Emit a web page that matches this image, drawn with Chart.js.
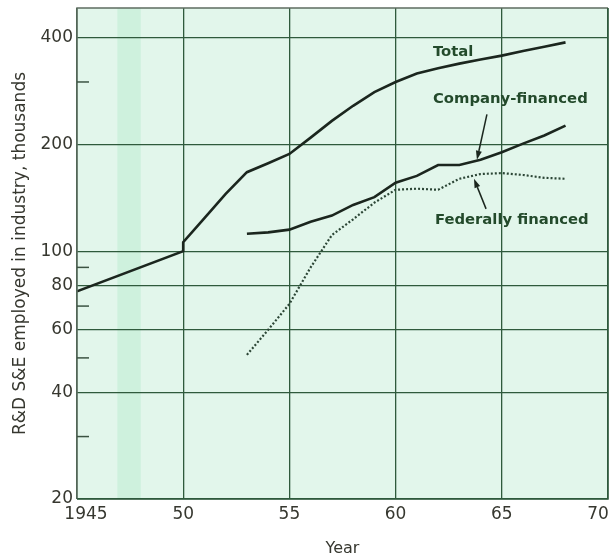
<!DOCTYPE html>
<html>
<head>
<meta charset="utf-8">
<script src="https://cdn.jsdelivr.net/npm/chart.js@4.4.1/dist/chart.umd.min.js"></script>
<style>
  html, body { margin: 0; padding: 0; background: #ffffff; }
  #wrap { width: 610px; height: 558px; }
</style>
</head>
<body>
<div id="wrap"><canvas id="c" width="610" height="558"></canvas></div>
<script>
// ---- Data ----
const totalYears   = [1945, 1950, 1950, 1951, 1952, 1953, 1954, 1955, 1956, 1957, 1958, 1959, 1960, 1961, 1962, 1963, 1964, 1965, 1966, 1967, 1968];
const totalValues  = [77,   100,  106,  124,  145,  167,  177,  188,  209,  233,  257,  281,  300,  317,  328,  338,  347,  356,  367,  377,  388];
const splitYears     = [1953, 1954, 1955, 1956, 1957, 1958, 1959, 1960, 1961, 1962, 1963, 1964, 1965, 1966, 1967, 1968];
const companyValues  = [112,  113,  115,  121,  126,  135,  142,  156,  163,  175,  175,  181,  190,  201,  212,  226];
const federalValues  = [51,   60,   71,   90,   111,  123,  137,  149,  150,  149,  160,  165,  166,  164,  161,  160];
const xTickValues = [1945, 1950, 1955, 1960, 1965, 1970];
const xTickLabels = ['1945', '50', '55', '60', '65', '70'];
const yTickValues = [20, 40, 60, 80, 100, 200, 400];
const yMinorTicks = [30, 50, 70, 90, 300];
const seriesLabels = ['Total', 'Company-financed', 'Federally financed'];
const yTitle = 'R&D S&E employed in industry, thousands';
const xTitle = 'Year';

// annotation anchors in data coordinates
const labelAnchors = [
  { text: 'Total',              x: 1961.76, y: 363 },
  { text: 'Company-financed',   x: 1961.76, y: 268 },
  { text: 'Federally financed', x: 1961.85, y: 122.5 }
];
const arrows = [
  { from: [1964.3, 243],   to: [1963.83, 181] },
  { from: [1964.26, 131.6], to: [1963.69, 160] }
];

const toPts = (xs, ys) => xs.map((x, i) => ({ x: x, y: ys[i] }));

const INK = '#1b261e';
const TEXT = '#36372f';
const GREEN_TEXT = '#234a2b';
const GRID = '#2f5a3c';

const decor = {
  id: 'decor',
  beforeDraw(chart) {
    const { ctx, chartArea: a, scales } = chart;
    ctx.save();
    ctx.fillStyle = '#ffffff';
    ctx.fillRect(0, 0, chart.width, chart.height);
    ctx.fillStyle = '#e2f6eb';
    ctx.fillRect(a.left, a.top, a.right - a.left, a.bottom - a.top);
    // slightly stronger green band of the paper
    const bx0 = scales.x.getPixelForValue(1946.9);
    const bx1 = scales.x.getPixelForValue(1948.0);
    ctx.fillStyle = 'rgba(170,232,196,0.35)';
    ctx.fillRect(bx0, a.top, bx1 - bx0, a.bottom - a.top);
    ctx.restore();
  },
  afterDatasetsDraw(chart) {
    const { ctx, chartArea: a, scales } = chart;
    const xs = scales.x, ys = scales.y;
    ctx.save();
    // frame
    ctx.strokeStyle = '#5d6c60';
    ctx.lineWidth = 1.5;
    ctx.beginPath();
    ctx.moveTo(a.left, a.bottom);
    ctx.lineTo(a.left, a.top);
    ctx.lineTo(a.right, a.top);
    ctx.stroke();
    ctx.strokeStyle = GRID;
    ctx.beginPath();
    ctx.moveTo(a.right, a.top);
    ctx.lineTo(a.right, a.bottom);
    ctx.lineTo(a.left, a.bottom);
    ctx.stroke();
    // minor ticks inside the plot
    ctx.strokeStyle = '#3b5342';
    ctx.lineWidth = 1.5;
    yMinorTicks.forEach(v => {
      const y = ys.getPixelForValue(v);
      ctx.beginPath();
      ctx.moveTo(a.left, y);
      ctx.lineTo(a.left + 12, y);
      ctx.stroke();
    });
    // x tick labels
    ctx.fillStyle = TEXT;
    ctx.font = '17px "DejaVu Sans"';
    ctx.textBaseline = 'middle';
    xTickValues.forEach((v, i) => {
      let x = xs.getPixelForValue(v);
      ctx.textAlign = 'center';
      if (i === 0) x += 9;
      if (i === xTickValues.length - 1) x -= 10;
      ctx.fillText(xTickLabels[i], x, a.bottom + 16);
    });
    // annotations
    ctx.fillStyle = GREEN_TEXT;
    ctx.font = 'bold 14.8px "DejaVu Sans"';
    ctx.textAlign = 'left';
    ctx.textBaseline = 'middle';
    labelAnchors.forEach(l => {
      ctx.fillText(l.text, xs.getPixelForValue(l.x), ys.getPixelForValue(l.y));
    });
    // arrows
    ctx.strokeStyle = INK;
    ctx.fillStyle = INK;
    ctx.lineWidth = 1.5;
    arrows.forEach(ar => {
      const x0 = xs.getPixelForValue(ar.from[0]), y0 = ys.getPixelForValue(ar.from[1]);
      const x1 = xs.getPixelForValue(ar.to[0]),   y1 = ys.getPixelForValue(ar.to[1]);
      const ang = Math.atan2(y1 - y0, x1 - x0);
      const hl = 9, hw = 3;
      const bx = x1 - hl * Math.cos(ang), by = y1 - hl * Math.sin(ang);
      ctx.beginPath();
      ctx.moveTo(x0, y0);
      ctx.lineTo(bx, by);
      ctx.stroke();
      ctx.beginPath();
      ctx.moveTo(x1, y1);
      ctx.lineTo(bx + hw * Math.sin(ang), by - hw * Math.cos(ang));
      ctx.lineTo(bx - hw * Math.sin(ang), by + hw * Math.cos(ang));
      ctx.closePath();
      ctx.fill();
    });
    ctx.restore();
  }
};

new Chart(document.getElementById('c'), {
  type: 'line',
  data: {
    datasets: [
      { label: seriesLabels[0], data: toPts(totalYears, totalValues), borderColor: INK, borderWidth: 2.6, pointRadius: 0, tension: 0, fill: false },
      { label: seriesLabels[1], data: toPts(splitYears, companyValues), borderColor: INK, borderWidth: 2.6, pointRadius: 0, tension: 0, fill: false },
      { label: seriesLabels[2], data: toPts(splitYears, federalValues), borderColor: '#2c4636', borderWidth: 2.2, borderDash: [2, 2], pointRadius: 0, tension: 0, fill: false }
    ]
  },
  options: {
    responsive: false,
    devicePixelRatio: 1,
    animation: false,
    events: [],
    layout: { padding: { top: 8, right: 2, left: 0, bottom: 0 } },
    plugins: { legend: { display: false }, tooltip: { enabled: false } },
    scales: {
      x: {
        type: 'linear',
        min: 1945, max: 1970,
        afterBuildTicks: s => { s.ticks = xTickValues.map(v => ({ value: v })); },
        afterFit: s => { s.height = 59; s.paddingLeft = 0; s.paddingRight = 0; },
        ticks: { display: false },
        grid: { color: GRID, lineWidth: 1.3, drawTicks: false },
        border: { display: false },
        title: { display: true, text: xTitle, color: TEXT, font: { family: 'DejaVu Sans', size: 16 }, padding: { top: 0, bottom: 0 } }
      },
      y: {
        type: 'logarithmic',
        min: 20, max: 485,
        afterBuildTicks: s => { s.ticks = yTickValues.map(v => ({ value: v })); },
        afterFit: s => { s.width = 77; s.paddingTop = 0; s.paddingBottom = 0; },
        ticks: { color: TEXT, font: { family: 'DejaVu Sans', size: 17 }, padding: 4, callback: v => String(v) },
        grid: { color: GRID, lineWidth: 1.3, drawTicks: false },
        border: { display: false },
        title: { display: true, text: yTitle, color: TEXT, font: { family: 'DejaVu Sans', size: 17 }, padding: { top: 10, bottom: 0 } }
      }
    }
  },
  plugins: [decor]
});
</script>
</body>
</html>
